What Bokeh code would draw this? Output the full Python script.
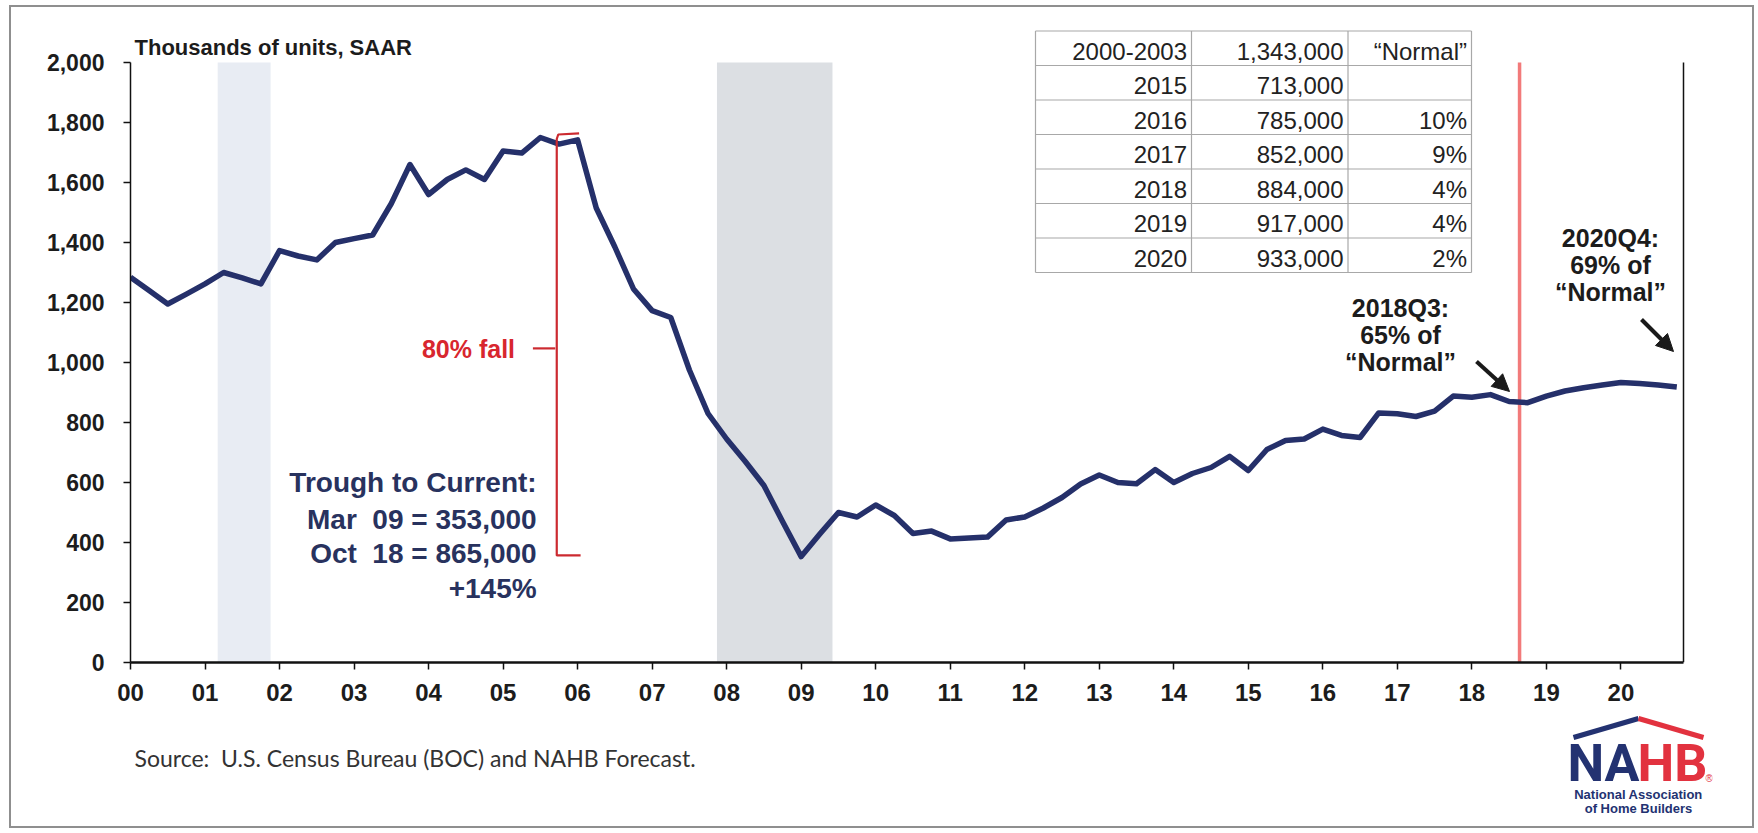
from bokeh.plotting import figure
from bokeh.models import (Range1d, FixedTicker, Arrow, NormalHead,
                          Label, ColumnDataSource, NumeralTickFormatter)
from bokeh.layouts import column
from bokeh.embed import file_html
from bokeh.resources import INLINE
from bokeh.core.properties import value

# ---------------- data ----------------
# Single-family starts, thousands of units SAAR, quarterly 2000Q1 .. 2020Q4
starts = [1284, 1240, 1195, 1228, 1262, 1300, 1282, 1262,
          1373, 1355, 1342, 1400, 1413, 1425, 1530, 1660,
          1560, 1610, 1642, 1610, 1705, 1698, 1750, 1728,
          1742, 1515, 1385, 1245, 1173, 1150, 975, 830,
          745, 670, 590, 470, 353, 428, 500, 485,
          525, 490, 430, 438, 412, 415, 418, 475,
          485, 515, 550, 595, 625, 600, 596, 643,
          600, 630, 650, 687, 640, 710, 740, 745,
          778, 757, 750, 832, 829, 820, 838, 888,
          884, 893, 870, 866, 888, 905, 916, 925,
          933, 930, 925, 918]
quarter_x = [2000 + i / 4 for i in range(len(starts))]

x_ticks = list(range(2000, 2021))
x_tick_labels = ["00", "01", "02", "03", "04", "05", "06", "07", "08", "09", "10",
                 "11", "12", "13", "14", "15", "16", "17", "18", "19", "20"]
y_ticks = [0, 200, 400, 600, 800, 1000, 1200, 1400, 1600, 1800, 2000]

recession_start = [2001.17, 2007.87]
recession_end = [2001.88, 2009.42]
recession_color = ["#e8ecf3", "#dcdfe3"]

table_period = ["2000-2003", "2015", "2016", "2017", "2018", "2019", "2020"]
table_units = ["1,343,000", "713,000", "785,000", "852,000", "884,000", "917,000", "933,000"]
table_growth = ["\u201cNormal\u201d", "", "10%", "9%", "4%", "4%", "2%"]

current_marker = 2018.64
x_axis_end = 2020.84

# ---------------- page geometry (decorations only) ----------------
OX, OY = 11, 7            # content origin on the page (inside the slide frame)
CW, CH = 1741, 819        # content size
H1 = 708                  # chart height, footer gets the rest
H2 = CH - H1
AX_LEFT, AX_RIGHT = 130, 1683   # page px of 2000 and x_axis_end
ZERO_PX, PX_PER_UNIT = 662, 0.3
FR_LEFT, FR_RIGHT, FR_TOP = 130, 1712, 9


def px_x(px):
    return 2000 + (px - AX_LEFT) * (x_axis_end - 2000) / (AX_RIGHT - AX_LEFT)


def py_y(py):
    return (ZERO_PX - py) / PX_PER_UNIT


# ---------------- styles ----------------
NAVY = "#25306a"
TXT = "#1c1c1c"
RED_T = "#d8262e"
FONT = "Liberation Sans"

p = figure(width=CW, height=H1, output_backend="svg", toolbar_location=None,
           x_range=Range1d(px_x(FR_LEFT), px_x(FR_RIGHT)),
           y_range=Range1d(0, py_y(FR_TOP)),
           min_border_left=FR_LEFT - OX, min_border_right=OX + CW - FR_RIGHT,
           min_border_top=FR_TOP - OY, min_border_bottom=OY + H1 - ZERO_PX)
p.outline_line_color = None
p.grid.visible = False
p.background_fill_color = "white"
p.border_fill_color = "white"

# axes
xa = p.xaxis[0]
xa.ticker = FixedTicker(ticks=x_ticks)
xa.major_label_overrides = {t: l for t, l in zip(x_ticks, x_tick_labels)}
xa.bounds = (2000, x_axis_end)
xa.axis_line_width = 2.5
xa.axis_line_color = "#111111"
xa.major_tick_in = 0
xa.major_tick_out = 7
xa.major_tick_line_width = 1.5
xa.major_tick_line_color = "#111111"
xa.minor_tick_out = 0
xa.minor_tick_in = 0
xa.major_label_standoff = 14
xa.major_label_text_font = FONT
xa.major_label_text_font_style = "bold"
xa.major_label_text_font_size = "24px"
xa.major_label_text_color = TXT

ya = p.yaxis[0]
ya.ticker = FixedTicker(ticks=y_ticks)
ya.formatter = NumeralTickFormatter(format="0,0")
ya.bounds = (0, 2000)
ya.axis_line_width = 1.5
ya.axis_line_color = "#111111"
ya.major_tick_in = 0
ya.major_tick_out = 7
ya.major_tick_line_width = 1.5
ya.major_tick_line_color = "#111111"
ya.minor_tick_out = 0
ya.minor_tick_in = 0
ya.major_label_standoff = 19
ya.major_label_text_font = FONT
ya.major_label_text_font_style = "bold"
ya.major_label_text_font_size = "23px"
ya.major_label_text_color = TXT

# recession bands
p.quad(left=recession_start, right=recession_end, bottom=0, top=2000,
       fill_color=recession_color, line_color=None)

# right frame line of the plot area
p.segment(x0=[x_axis_end], y0=[0], x1=[x_axis_end], y1=[2000],
          line_color="#111111", line_width=1.5)

# current marker (red vertical)
p.segment(x0=[current_marker], y0=[0], x1=[current_marker], y1=[2000],
          line_color="#f27a7a", line_width=3.5)

# main series
p.line(quarter_x, starts, line_color=NAVY, line_width=5.5, line_join="round")

# axis title
p.add_layout(Label(x=px_x(134), y=py_y(47), text="Thousands of units, SAAR",
                   text_font=FONT, text_font_style="bold", text_font_size="22px",
                   text_color=TXT, text_baseline="middle"))

# 80% fall bracket
p.line([2006.02, 2005.74, 2005.72, 2005.72, 2006.04],
       [1764, 1760, 1745, 357, 357], line_color="#cc2a30", line_width=2.2)
p.line([2005.40, 2005.70], [1047, 1047], line_color="#cc2a30", line_width=2.2)
p.add_layout(Label(x=2005.16, y=1045, text="80% fall", text_font=FONT,
                   text_font_style="bold", text_font_size="25px", text_color=RED_T,
                   text_align="right", text_baseline="middle"))

# trough to current block
trough_lines = ["Trough to Current:", "Mar \u00a009 = 353,000",
                "Oct \u00a018 = 865,000", "+145%"]
for txt, yy in zip(trough_lines, [600, 478, 363, 247]):
    p.add_layout(Label(x=2005.45, y=yy, text=txt, text_font=FONT,
                       text_font_style="bold", text_font_size="28px",
                       text_color="#28325e", text_align="right",
                       text_baseline="middle"))

# table
t_left, t_c1, t_c2, t_right = px_x(1035), px_x(1191), px_x(1347.5), px_x(1471)
t_top, t_bottom = py_y(30.5), py_y(272)
nrow = len(table_period)
rh = (t_top - t_bottom) / nrow
hy = [t_top - i * rh for i in range(nrow + 1)]
p.segment(x0=[t_left] * len(hy), y0=hy, x1=[t_right] * len(hy), y1=hy,
          line_color="#a8a8a8", line_width=1.2)
vx = [t_left, t_c1, t_c2, t_right]
p.segment(x0=vx, y0=[t_bottom] * 4, x1=vx, y1=[t_top] * 4,
          line_color="#a8a8a8", line_width=1.2)
rc = [t_top - (i + 0.5) * rh - 10 for i in range(nrow)]
pad = 0.06
tsrc = ColumnDataSource(dict(
    x=[t_c1 - pad] * nrow + [t_c2 - pad] * nrow + [t_right - pad] * nrow,
    y=rc * 3,
    t=table_period + table_units + table_growth))
p.text(x="x", y="y", text="t", source=tsrc, text_font=value(FONT),
       text_font_size="24px", text_color="#222222", text_align="right",
       text_baseline="middle")

# callouts
for txt, py in zip(["2018Q3:", "65% of", "\u201cNormal\u201d"], [307, 334, 361]):
    p.add_layout(Label(x=px_x(1400), y=py_y(py), text=txt, text_font=FONT,
                       text_font_style="bold", text_font_size="25px",
                       text_color=TXT, text_align="center", text_baseline="middle"))
for txt, py in zip(["2020Q4:", "69% of", "\u201cNormal\u201d"], [237, 264, 291]):
    p.add_layout(Label(x=px_x(1610), y=py_y(py), text=txt, text_font=FONT,
                       text_font_style="bold", text_font_size="25px",
                       text_color=TXT, text_align="center", text_baseline="middle"))

p.add_layout(Arrow(end=NormalHead(size=17, fill_color="#1a1a1a", line_color="#1a1a1a"),
                   x_start=px_x(1476), y_start=py_y(361), x_end=px_x(1509), y_end=py_y(391),
                   line_width=4, line_color="#1a1a1a"))
p.add_layout(Arrow(end=NormalHead(size=17, fill_color="#1a1a1a", line_color="#1a1a1a"),
                   x_start=px_x(1641), y_start=py_y(319), x_end=px_x(1673), y_end=py_y(351),
                   line_width=4, line_color="#1a1a1a"))

# ---------------- footer (source + logo), page-pixel coordinates ----------------
p2 = figure(width=CW, height=H2, output_backend="svg", toolbar_location=None,
            x_range=Range1d(FR_LEFT, FR_RIGHT), y_range=Range1d(OY + CH, OY + H1),
            x_axis_location=None, y_axis_location=None,
            min_border_left=FR_LEFT - OX, min_border_right=OX + CW - FR_RIGHT,
            min_border_top=0, min_border_bottom=0)
p2.outline_line_color = None
p2.grid.visible = False
p2.background_fill_color = "white"
p2.border_fill_color = "white"

p2.add_layout(Label(x=134, y=757,
                    text="Source:\u00a0 U.S. Census Bureau (BOC) and NAHB Forecast.",
                    text_font="Lato", text_font_size="23px", text_color="#333333",
                    text_baseline="middle"))

LOGO_NAVY = "#233271"
LOGO_RED = "#e2323f"
p2.line([1573, 1638], [737, 718], line_color=LOGO_NAVY, line_width=5)
p2.line([1638, 1703], [718, 737], line_color=LOGO_RED, line_width=5)
p2.add_layout(Label(x=1639, y=763, text="NA", text_font="Roboto",
                    text_font_style="bold", text_font_size="52px", text_color=LOGO_NAVY,
                    text_align="right", text_baseline="middle"))
p2.add_layout(Label(x=1637, y=763, text="HB", text_font="Roboto",
                    text_font_style="bold", text_font_size="52px", text_color=LOGO_RED,
                    text_align="left", text_baseline="middle"))
p2.add_layout(Label(x=1705, y=778, text="\u00ae", text_font=FONT,
                    text_font_size="10px", text_color=LOGO_RED, text_baseline="middle"))
p2.add_layout(Label(x=1638, y=794, text="National Association", text_font=FONT,
                    text_font_style="bold", text_font_size="13px", text_color=LOGO_NAVY,
                    text_align="center", text_baseline="middle"))
p2.add_layout(Label(x=1638, y=808, text="of Home Builders", text_font=FONT,
                    text_font_style="bold", text_font_size="13px", text_color=LOGO_NAVY,
                    text_align="center", text_baseline="middle"))

layout = column(p, p2, spacing=0, margin=(OY, 0, 0, OX),
                styles={"outline": "2px solid #8f8f8f", "outline-offset": "0px"})

open("out.html", "w").write(file_html(layout, INLINE))
